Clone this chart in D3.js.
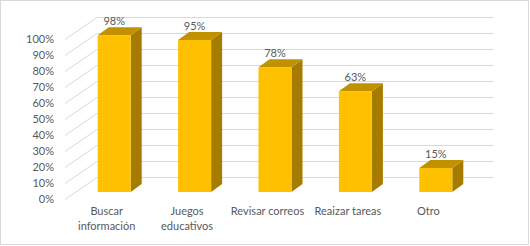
<!DOCTYPE html>
<html lang="es">
<head>
  <meta charset="UTF-8">
  <title>Usos</title>
  <style>
    body { margin: 0; padding: 0; background: #fff; }
    svg text { font-family: Lato, "Open Sans", sans-serif; fill: #595959; }
  </style>
</head>
<body>
  <div id="chart"></div>
  <script src="https://d3js.org/d3.v7.min.js"></script>
  <script>
    // datos
    const categories = ["Buscar información", "Juegos educativos", "Revisar correos", "Reaizar tareas", "Otro"];
    const labelLines = [["Buscar", "información"], ["Juegos", "educativos"], ["Revisar correos"], ["Reaizar tareas"], ["Otro"]];
    const values = [0.98, 0.95, 0.78, 0.63, 0.15];
    const yTicks = [0, 0.1, 0.2, 0.3, 0.4, 0.5, 0.6, 0.7, 0.8, 0.9, 1];

    const width = 530, height = 246;

    const svg = d3.select("#chart").append("svg")
      .attr("width", width)
      .attr("height", height);

    // borde del grafico
    svg.append("rect")
      .attr("x", 0.5).attr("y", 0.5)
      .attr("width", 528).attr("height", 244)
      .attr("fill", "#fff")
      .attr("stroke", "#d9d9d9");

    // escalas en el plano frontal de las barras
    const x = d3.scaleBand().domain(categories).range([74, 476]);
    const y = d3.scaleLinear().domain([0, 1]).range([192, 32]);
    const fmt = d3.format(".0%");

    const barW = 33, depthX = 11, depthY = 8;

    // rejilla: pared lateral y pared de fondo
    const grid = svg.append("g").attr("stroke", "#d9d9d9").attr("stroke-width", 1);
    grid.selectAll(".side").data(yTicks).enter().append("line")
      .attr("x1", 65).attr("y1", d => Math.round(y(d) + 7) + 0.5)
      .attr("x2", 97).attr("y2", d => Math.round(y(d) - 15) + 0.5);
    grid.selectAll(".back").data(yTicks).enter().append("line")
      .attr("x1", 97).attr("y1", d => Math.round(y(d) - 15) + 0.5)
      .attr("x2", 494).attr("y2", d => Math.round(y(d) - 15) + 0.5);

    // etiquetas del eje Y
    svg.append("g").selectAll("text").data(yTicks).enter().append("text")
      .attr("x", 54)
      .attr("y", d => y(d) + 7)
      .attr("dy", "0.35em")
      .attr("text-anchor", "end")
      .style("font-size", "11px")
      .text(d => fmt(d));

    // barras 3D
    const bars = svg.append("g").selectAll("g").data(values).enter().append("g");
    const bx = (d, i) => x(categories[i]) + (x.bandwidth() - barW) / 2;

    bars.append("path")
      .attr("fill", "#a67c00")
      .attr("d", (d, i) => {
        const x0 = bx(d, i) + barW, yt = y(d), yb = y(0);
        return `M${x0},${yt}L${x0 + depthX},${yt - depthY}L${x0 + depthX},${yb - depthY}L${x0},${yb}Z`;
      });
    bars.append("path")
      .attr("fill", "#c09200")
      .attr("d", (d, i) => {
        const x0 = bx(d, i), yt = y(d);
        return `M${x0},${yt}L${x0 + depthX},${yt - depthY}L${x0 + barW + depthX},${yt - depthY}L${x0 + barW},${yt}Z`;
      });
    bars.append("rect")
      .attr("fill", "#ffc000")
      .attr("x", bx)
      .attr("y", d => y(d))
      .attr("width", barW)
      .attr("height", d => y(0) - y(d));

    // etiquetas de valor
    bars.append("text")
      .attr("x", (d, i) => x(categories[i]) + x.bandwidth() / 2)
      .attr("y", d => y(d) - 10)
      .attr("text-anchor", "middle")
      .style("font-size", "11px")
      .text(d => fmt(d));

    // etiquetas de categoria
    const cat = svg.append("g").selectAll("text").data(categories).enter().append("text")
      .attr("text-anchor", "middle")
      .style("font-size", "11px");
    cat.selectAll("tspan").data((d, i) => labelLines[i].map(t => ({ t, i }))).enter().append("tspan")
      .attr("x", d => x(categories[d.i]) + x.bandwidth() / 2 - 7.5)
      .attr("y", (d, j) => 215 + j * 15)
      .text(d => d.t);
  </script>
</body>
</html>
